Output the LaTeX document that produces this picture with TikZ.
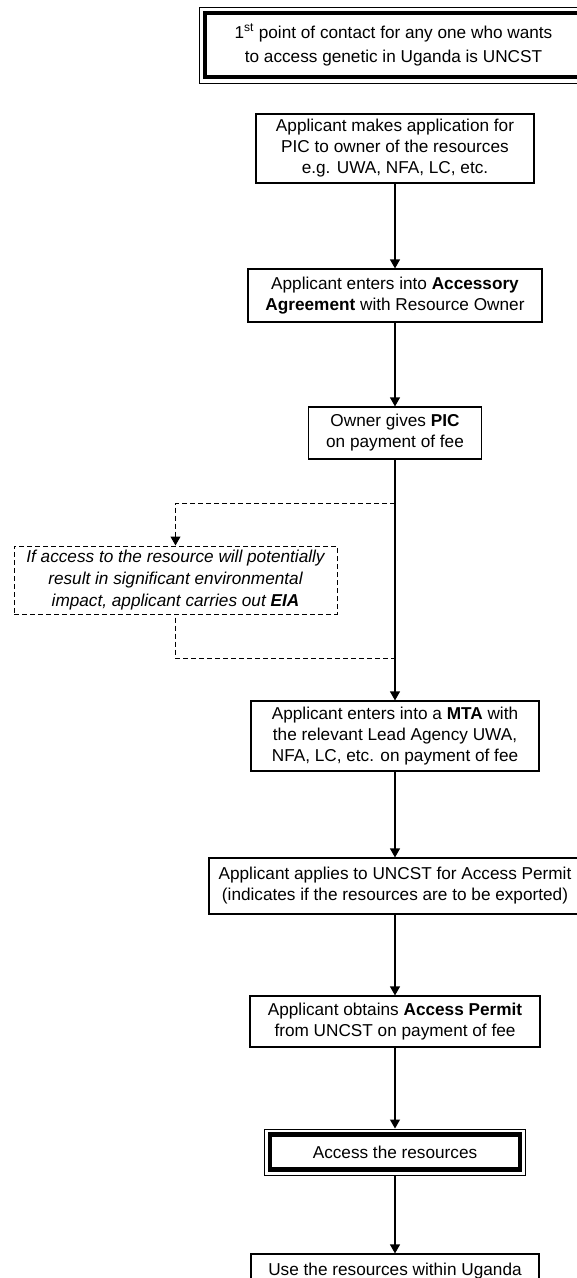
\documentclass[tikz,border=0pt]{standalone}
\usepackage{fontspec}
\setmainfont{Liberation Sans}
\usetikzlibrary{arrows.meta,calc}
\begin{document}
\begin{tikzpicture}[x=1pt,y=-1pt,
  box/.style={draw=black,line width=1.2pt,align=center,inner sep=0pt,font=\fontsize{17.2}{21}\selectfont,fill=white},
  dbox/.style={box,line width=1pt},
  eiabox/.style={draw=black,line width=1pt,dash pattern=on 5pt off 3pt,align=center,inner sep=0pt,font=\fontsize{17.2}{22}\selectfont\itshape},
  arr/.style={line width=1.2pt,-{Triangle[width=10pt,length=9pt]}},
  darr/.style={line width=1pt,dash pattern=on 5pt off 3pt},
  thickframe/.style={line width=4.8pt}
]
\useasboundingbox (0,0) rectangle (577,1278);
\clip (0,0) rectangle (577,1278);

% top box
\node[dbox,minimum width=389,minimum height=76] (top) at (393.5,45)
  {1\textsuperscript{st} point of contact for any one who wants\\[3pt]to access genetic in Uganda is UNCST};
\draw[thickframe] ($(top.north west)+(6.5pt,-6.5pt)$) rectangle ($(top.south east)+(-6.5pt,6.5pt)$);

\node[box,minimum width=278,minimum height=69] (b2) at (395,148.5)
  {Applicant makes application for\\PIC to owner of the resources\\e.g. UWA, NFA, LC, etc.};
\node[box,minimum width=294,minimum height=53] (b3) at (395,295.5)
  {Applicant enters into \textbf{Accessory}\\\textbf{Agreement} with Resource Owner};
\node[box,minimum width=173,minimum height=52] (b4) at (395,433)
  {Owner gives \textbf{PIC}\\on payment of fee};
\node[eiabox,minimum width=323,minimum height=68] (eia) at (175.5,580)
  {If access to the resource will potentially\\result in significant environmental\\impact, applicant carries out \textbf{EIA}};
\node[box,minimum width=288,minimum height=70] (b5) at (395,736)
  {Applicant enters into a \textbf{MTA} with\\the relevant Lead Agency UWA,\\NFA, LC, etc. on payment of fee};
\node[box,minimum width=372,minimum height=56] (b6) at (395,886)
  {Applicant applies to UNCST for Access Permit\\(indicates if the resources are to be exported)};
\node[box,minimum width=290,minimum height=51] (b7) at (395,1021.5)
  {Applicant obtains \textbf{Access Permit}\\from UNCST on payment of fee};
\node[dbox,minimum width=261,minimum height=46] (b8) at (395,1152)
  {Access the resources};
\draw[line width=4.5pt] ($(b8.north west)+(6pt,-6pt)$) rectangle ($(b8.south east)+(-6pt,6pt)$);
\node[box,minimum width=288,minimum height=34] (b9) at (395,1271)
  {Use the resources within Uganda};

\coordinate (j1) at (395,503);
\coordinate (j2) at (395,658);

\draw[arr] (b2) -- (b3);
\draw[arr] (b3) -- (b4);
\draw[arr] (b4) -- (b5);
\draw[arr] (b5) -- (b6);
\draw[arr] (b6) -- (b7);
\draw[arr] (b7) -- (b8);
\draw[arr] (b8) -- (b9);

\draw[darr,-{Triangle[width=10pt,length=9pt]}] (j1) -| (eia.north);
\draw[darr] ($(eia.south)+(0,3)$) |- (j2);
\end{tikzpicture}
\end{document}
